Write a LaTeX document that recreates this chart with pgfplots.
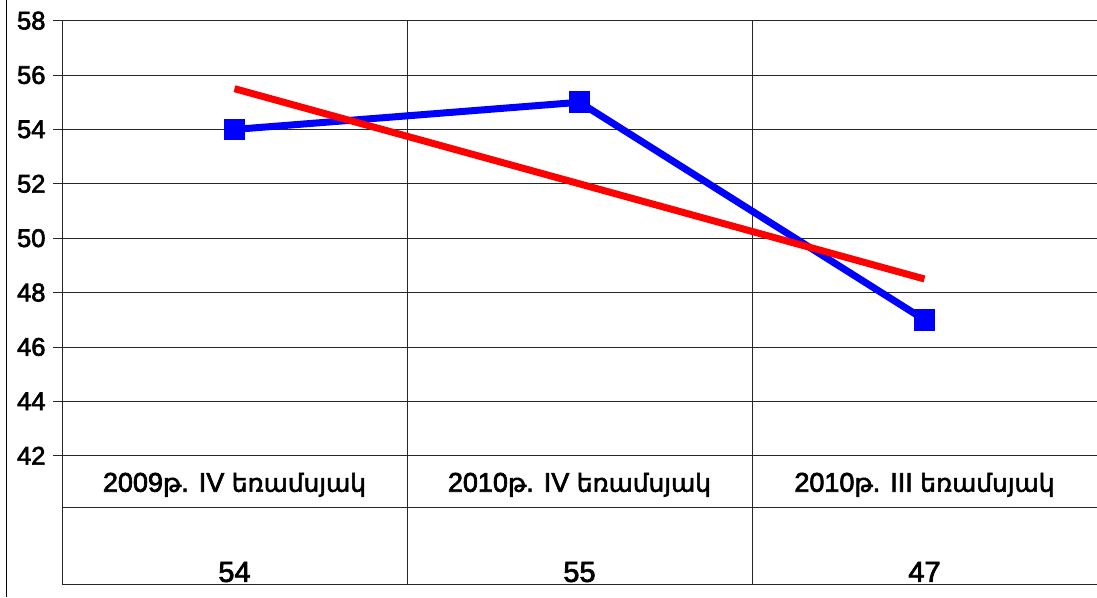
\documentclass[border=0pt]{standalone}
\usepackage{pgfplots}
\pgfplotsset{compat=1.18}
\usepackage{fontspec}
\setmainfont{Liberation Sans}[FakeBold=2.6]
\newfontfamily\arm{DejaVu Sans}[Scale=0.92,FakeBold=2.2]
\definecolor{sblue}{RGB}{0,0,255}
\definecolor{sred}{RGB}{255,0,0}
\begin{document}
\begin{tikzpicture}
\begin{axis}[
  at={(0,0)}, anchor=south west,
  scale only axis, width=1035pt, height=435pt,
  xmin=-0.5, xmax=2.5, ymin=42, ymax=58,
  ytick={42,44,...,58},
  xtick={0,1,2},
  xticklabels={{2009{\arm թ}. IV {\arm եռամսյակ}},{2010{\arm թ}. IV {\arm եռամսյակ}},{2010{\arm թ}. III {\arm եռամսյակ}}},
  axis line style={draw=none},
  ymajorgrids, grid style={black!85, line width=0.8pt},
  ytick pos=left, tick align=outside, major tick length=9pt,
  ytick style={black!85, line width=0.8pt},
  xtick style={draw=none},
  /pgf/number format/assume math mode=true,
  yticklabel style={font=\fontsize{25.5}{30}\selectfont, xshift=-4pt},
  xticklabel style={font=\fontsize{27}{32}\selectfont, anchor=base, yshift=-27pt},
  clip=false,
]
\draw[black!85, line width=0.8pt] (axis cs:-0.5,58) -- (axis cs:-0.5,37.28);
\draw[black!85, line width=0.8pt] (axis cs:0.5,58) -- (axis cs:0.5,37.28);
\draw[black!85, line width=0.8pt] (axis cs:1.5,58) -- (axis cs:1.5,37.28);
\draw[black!85, line width=0.8pt] (axis cs:-0.5,40.11) -- (axis cs:2.5,40.11);
\draw[black!85, line width=0.8pt] (axis cs:-0.5,37.28) -- (axis cs:2.5,37.28);
\addplot[sblue, line width=7pt, mark=square*, mark size=10.3pt, mark options={line width=0pt}] coordinates {(0,54) (1,55) (2,47)};
\addplot[sred, line width=7pt] coordinates {(0,55.5) (2,48.5)};
\addplot[draw=none, mark=none, point meta=explicit, nodes near coords,
  every node near coord/.append style={anchor=base, font=\fontsize{29}{34}\selectfont, text=black}]
  coordinates {(0,37.36) [54] (1,37.36) [55] (2,37.36) [47]};
\end{axis}
\draw[black, line width=1pt] (-55.5pt,-141.3pt) -- (-55.5pt,455.7pt);
\pgfresetboundingbox
\path[use as bounding box] (-62pt,-141.3pt) rectangle (1035pt,455.7pt);
\end{tikzpicture}
\end{document}
